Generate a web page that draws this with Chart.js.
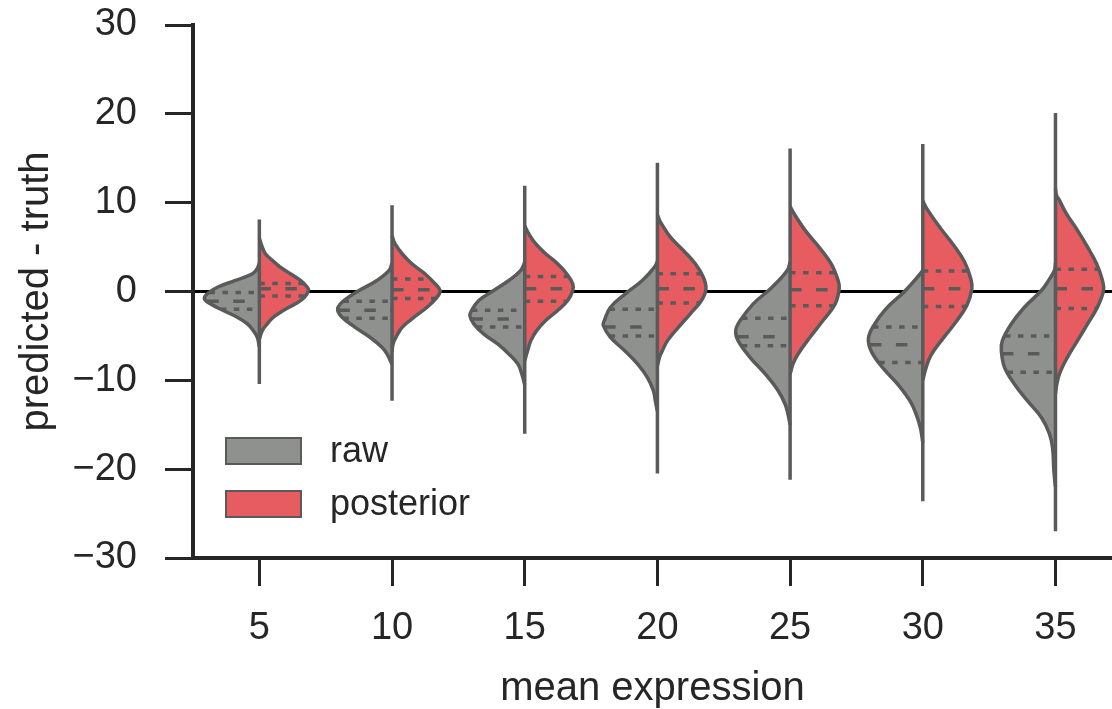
<!DOCTYPE html>
<html>
<head>
<meta charset="utf-8">
<script src="https://cdn.jsdelivr.net/npm/chart.js@4.4.1/dist/chart.umd.min.js"></script>
<style>
html,body{margin:0;padding:0;background:#fff}
#wrap{width:1112px;height:709px}
</style>
</head>
<body>
<div id="wrap"><canvas id="chart" width="1112" height="709"></canvas></div>
<script>
// data
var categories = [5, 10, 15, 20, 25, 30, 35];
var seriesNames = ['raw', 'posterior'];
var yTicks = [-30, -20, -10, 0, 10, 20, 30];

// extent of each violin (min / max of the data)
var tailTop = [8.1, 9.7, 11.9, 14.5, 16.1, 16.6, 20.1];
var tailBottom = [-10.4, -12.3, -16.0, -20.5, -21.2, -23.6, -27.0];

// quartiles
var rawQ3 = [-0.1, -1.1, -2.1, -2.0, -3.0, -4.0, -5.0];
var rawMedian = [-1.1, -2.1, -3.1, -4.0, -5.1, -6.0, -7.0];
var rawQ1 = [-2.0, -3.0, -4.0, -5.0, -6.1, -8.0, -9.1];
var postQ3 = [0.9, 1.4, 1.7, 2.0, 2.1, 2.3, 2.5];
var postMedian = [0.3, 0.2, 0.3, 0.3, 0.2, 0.3, 0.3];
var postQ1 = [-0.5, -0.8, -1.1, -1.3, -1.6, -1.7, -1.9];

// density profiles: [value, half width], top to bottom
var rawDensity = [
  [[3.2,0],[2.59,0.08],[2.0,0.26],[1.24,0.90],[0.48,1.58],[-0.26,1.96],[-0.82,2.07],[-1.39,1.85],[-2.14,1.36],[-2.90,0.83],[-3.64,0.45],[-4.40,0.23],[-5.15,0.08],[-6.2,0]],
  [[3.2,0],[2.37,0.11],[1.24,0.57],[0.11,1.24],[-1.01,1.81],[-1.95,2.05],[-2.90,1.88],[-4.03,1.39],[-5.15,0.83],[-6.28,0.38],[-7.03,0.19],[-8.2,0]],
  [[3.3,0],[2.37,0.15],[1.24,0.60],[0.11,1.17],[-1.01,1.73],[-2.14,2.00],[-2.71,2.07],[-3.64,1.92],[-4.77,1.55],[-5.90,1.02],[-7.03,0.60],[-8.15,0.26],[-9.28,0.11],[-10.5,0]],
  [[3.4,0],[2.74,0.11],[1.24,0.57],[-0.26,1.21],[-1.77,1.77],[-3.27,2.00],[-3.83,2.04],[-5.15,1.77],[-6.65,1.24],[-8.15,0.75],[-9.67,0.38],[-11.17,0.15],[-12.29,0.08],[-13.5,0]],
  [[3.3,0],[2.37,0.11],[0.48,0.68],[-1.39,1.39],[-3.27,1.88],[-4.40,2.05],[-5.53,1.96],[-7.41,1.51],[-9.28,0.94],[-11.17,0.45],[-12.67,0.19],[-13.79,0.08],[-15,0]],
  [[2.4,0],[1.80,0.15],[-0.08,0.72],[-1.95,1.39],[-3.83,1.85],[-5.33,2.05],[-6.85,1.92],[-8.72,1.47],[-10.60,0.90],[-12.48,0.45],[-13.98,0.23],[-15.48,0.08],[-17,0]],
  [[3.2,0],[2.37,0.04],[1.24,0.26],[0.11,0.53],[-1.77,1.17],[-3.64,1.66],[-5.53,2.00],[-6.65,2.04],[-8.54,1.92],[-10.41,1.55],[-12.29,1.06],[-14.18,0.53],[-16.01,0.23],[-17.59,0.11],[-20.19,0.06],[-22,0]]
];
var postDensity = [
  [[6.0,0],[5.00,0.11],[4.25,0.23],[3.50,0.49],[2.74,0.79],[2.00,1.17],[1.24,1.55],[0.48,1.81],[0.11,1.85],[-0.64,1.70],[-1.39,1.36],[-2.14,0.90],[-2.90,0.53],[-3.64,0.30],[-4.40,0.11],[-5.4,0]],
  [[6.3,0],[5.38,0.11],[4.25,0.38],[3.12,0.75],[2.00,1.24],[0.87,1.62],[0.11,1.81],[-0.64,1.70],[-1.77,1.32],[-2.90,0.83],[-4.03,0.38],[-5.15,0.15],[-5.90,0.04],[-6.8,0]],
  [[7.4,0],[6.51,0.15],[5.38,0.41],[4.25,0.79],[3.12,1.24],[2.00,1.58],[0.87,1.81],[0.11,1.81],[-1.01,1.62],[-2.14,1.24],[-3.27,0.79],[-4.40,0.45],[-5.53,0.23],[-6.65,0.11],[-7.8,0]],
  [[8.6,0],[7.63,0.15],[6.12,0.49],[4.62,0.98],[3.12,1.43],[1.61,1.73],[0.30,1.83],[-1.01,1.66],[-2.51,1.24],[-4.03,0.79],[-5.53,0.38],[-6.65,0.19],[-7.41,0.08],[-8.4,0]],
  [[9.6,0],[8.76,0.15],[6.88,0.57],[5.00,1.09],[3.12,1.55],[1.24,1.81],[0.30,1.85],[-1.39,1.70],[-3.27,1.24],[-5.15,0.75],[-7.03,0.30],[-8.15,0.11],[-9.3,0]],
  [[10.2,0],[9.33,0.15],[7.07,0.68],[5.19,1.17],[3.30,1.58],[1.43,1.81],[0.30,1.85],[-1.58,1.66],[-3.46,1.24],[-5.33,0.75],[-7.22,0.30],[-8.72,0.11],[-10,0]],
  [[11.6,0],[10.83,0.04],[10.26,0.15],[8.76,0.41],[6.88,0.83],[5.00,1.21],[3.12,1.55],[1.24,1.77],[0.11,1.81],[-1.77,1.58],[-3.64,1.21],[-5.53,0.83],[-7.41,0.45],[-9.28,0.15],[-10.60,0.04],[-11.5,0]]
];

// styles
var GRAY = '#8f918e', RED = '#e65c61', EDGE = '#5a5a5a', INK = '#262626';
var fills = [GRAY, RED];
var FONT = '"Liberation Sans", Arial, sans-serif';

Chart.defaults.font.family = FONT;
Chart.defaults.font.size = 38;
Chart.defaults.color = INK;

// half width of a profile at value v (linear between read points)
function widthAt(shape, v){
  for(var i=0;i<shape.length-1;i++){
    var a = shape[i], b = shape[i+1];
    if(v <= a[0] && v >= b[0]){
      var t = (a[0]-v)/(a[0]-b[0]);
      return a[1] + t*(b[1]-a[1]);
    }
  }
  return 0;
}

var datasets = [];

// violin halves
categories.forEach(function(c, i){
  [rawDensity[i], postDensity[i]].forEach(function(shape, s){
    var side = s === 0 ? -1 : 1;
    datasets.push({
      data: shape.map(function(p){ return {x: c + side*p[1], y: p[0]}; }),
      backgroundColor: fills[s],
      borderColor: EDGE,
      borderWidth: 3.5,
      borderJoinStyle: 'round',
      fill: 'shape',
      tension: 0.4,
      order: 3
    });
  });
  // centre line through both halves
  datasets.push({
    data: [{x: c, y: tailTop[i]}, {x: c, y: tailBottom[i]}],
    borderColor: EDGE,
    borderWidth: 3.5,
    fill: false,
    order: 2
  });
});

// quartile lines
function addQuartiles(values, shapes, side, dash){
  categories.forEach(function(c, i){
    var w = widthAt(shapes[i], values[i]);
    var pts = side < 0 ? [{x: c - w, y: values[i]}, {x: c, y: values[i]}]
                       : [{x: c, y: values[i]}, {x: c + w, y: values[i]}];
    datasets.push({
      data: pts, borderColor: EDGE, borderWidth: 3.5, borderDash: dash,
      borderCapStyle: 'butt', fill: false, order: 1
    });
  });
}
addQuartiles(rawQ3, rawDensity, -1, [5.5, 7.5]);
addQuartiles(rawMedian, rawDensity, -1, [11.5, 14.5]);
addQuartiles(rawQ1, rawDensity, -1, [5.5, 7.5]);
addQuartiles(postQ3, postDensity, 1, [5.5, 7.5]);
addQuartiles(postMedian, postDensity, 1, [11.5, 14.5]);
addQuartiles(postQ1, postDensity, 1, [5.5, 7.5]);

// legend drawn inside the plot, lower left
var legendPlugin = {
  id: 'boxLegend',
  afterDraw: function(chart){
    var ctx = chart.ctx, a = chart.chartArea;
    ctx.save();
    seriesNames.forEach(function(name, k){
      var x = a.left + 33, y = a.top + 413 + k*53;
      ctx.fillStyle = fills[k];
      ctx.fillRect(x, y, 75, 26);
      ctx.strokeStyle = EDGE;
      ctx.lineWidth = 2;
      ctx.strokeRect(x, y, 75, 26);
      ctx.fillStyle = INK;
      ctx.font = '36px ' + FONT;
      ctx.textBaseline = 'middle';
      ctx.textAlign = 'left';
      ctx.fillText(name, x + 104, y + 14);
    });
    ctx.restore();
  }
};

// no extra room for overflowing tick labels, the plot box is fixed
function noOverflow(s){
  s.paddingTop = 0; s.paddingBottom = 0; s.paddingLeft = 0; s.paddingRight = 0;
}

new Chart(document.getElementById('chart'), {
  type: 'line',
  data: { datasets: datasets },
  options: {
    responsive: false,
    devicePixelRatio: 1,
    animation: false,
    layout: { padding: { top: 25, right: 0, left: 0, bottom: 0 } },
    elements: { point: { radius: 0, hoverRadius: 0 } },
    plugins: { legend: { display: false }, tooltip: { enabled: false } },
    scales: {
      x: {
        type: 'linear', min: 2.5, max: 37.13,
        afterBuildTicks: function(s){ s.ticks = categories.map(function(v){ return {value: v}; }); },
        ticks: { padding: 20, color: INK, maxRotation: 0, autoSkip: false },
        grid: { drawOnChartArea: false, drawTicks: true, tickLength: 28, tickWidth: 3, tickColor: INK },
        border: { display: true, color: INK, width: 4 },
        title: { display: true, text: 'mean expression', color: INK, font: { size: 40 }, padding: { top: 0, bottom: -4 } },
        afterFit: function(s){ s.height = 151; noOverflow(s); }
      },
      y: {
        type: 'linear', min: -30, max: 30,
        afterBuildTicks: function(s){ s.ticks = yTicks.map(function(v){ return {value: v}; }); },
        ticks: {
          padding: 28, color: INK,
          callback: function(v){ return v < 0 ? '\u2212' + Math.abs(v) : String(v); }
        },
        grid: {
          color: function(ctx){ return ctx.tick && ctx.tick.value === 0 ? '#000' : 'rgba(0,0,0,0)'; },
          lineWidth: function(ctx){ return ctx.tick && ctx.tick.value === 0 ? 3 : 1; },
          drawTicks: true, tickLength: 28, tickWidth: 3, tickColor: INK
        },
        border: { display: true, color: INK, width: 4 },
        title: { display: true, text: 'predicted - truth', color: INK, font: { size: 40 }, padding: { top: 13, bottom: 0 } },
        afterFit: function(s){ s.width = 193; noOverflow(s); }
      }
    }
  },
  plugins: [legendPlugin]
});
</script>
</body>
</html>
